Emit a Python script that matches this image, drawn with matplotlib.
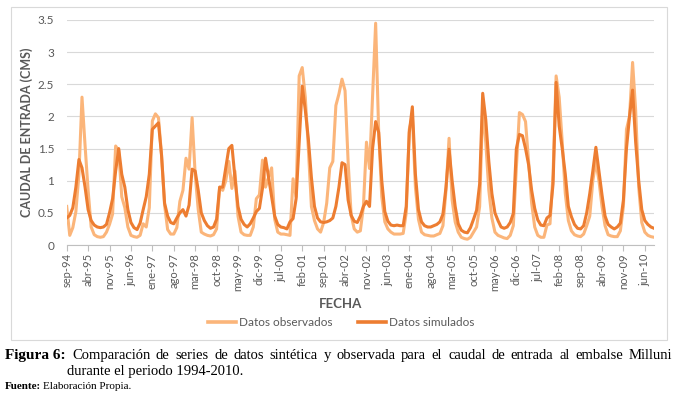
import matplotlib
matplotlib.use("Agg")
import matplotlib.pyplot as plt
from matplotlib.lines import Line2D
from matplotlib.patches import Rectangle
import numpy as np

# Monthly series sep-94 ... sep-10 (caudal de entrada, m3/s)
observados = [
    0.60, 0.15, 0.27, 0.52, 1.10, 2.30, 1.55, 0.85, 0.28, 0.16, 0.13, 0.12,
    0.13, 0.20, 0.32, 0.48, 1.54, 1.47, 0.75, 0.58, 0.28, 0.15, 0.13, 0.12,
    0.15, 0.33, 0.28, 0.58, 1.93, 2.04, 1.98, 1.40, 0.62, 0.24, 0.17, 0.17,
    0.27, 0.68, 0.85, 1.35, 1.18, 1.98, 1.10, 0.55, 0.20, 0.17, 0.15, 0.14,
    0.16, 0.25, 0.90, 0.85, 1.00, 1.30, 0.88, 1.15, 0.45, 0.20, 0.16, 0.15,
    0.15, 0.28, 0.72, 0.78, 1.32, 0.90, 1.05, 1.20, 0.40, 0.20, 0.17, 0.17,
    0.16, 0.15, 1.03, 0.75, 2.63, 2.76, 2.30, 1.50, 0.60, 0.38, 0.25, 0.20,
    0.35, 0.65, 1.20, 1.30, 2.17, 2.35, 2.58, 2.40, 1.30, 0.46, 0.25, 0.20,
    0.22, 0.60, 1.60, 1.19, 2.30, 3.45, 1.75, 0.75, 0.36, 0.25, 0.20, 0.17,
    0.17, 0.17, 0.18, 0.50, 1.80, 2.00, 0.90, 0.40, 0.20, 0.16, 0.15, 0.14,
    0.14, 0.16, 0.18, 0.30, 0.85, 1.66, 0.70, 0.36, 0.20, 0.12, 0.10, 0.09,
    0.12, 0.20, 0.28, 0.60, 2.15, 1.60, 0.85, 0.42, 0.20, 0.15, 0.13, 0.11,
    0.10, 0.15, 0.30, 1.20, 2.06, 2.03, 1.92, 1.30, 0.65, 0.28, 0.15, 0.12,
    0.12, 0.31, 0.33, 1.10, 2.63, 2.30, 1.60, 0.80, 0.38, 0.22, 0.16, 0.14,
    0.13, 0.17, 0.30, 0.45, 1.00, 1.30, 1.00, 0.60, 0.30, 0.16, 0.14, 0.13,
    0.13, 0.22, 0.60, 1.80, 2.00, 2.84, 2.10, 0.90, 0.35, 0.20, 0.15, 0.13,
    0.12,
]
simulados = [
    0.42, 0.46, 0.58, 0.90, 1.33, 1.20, 0.90, 0.55, 0.38, 0.31, 0.28, 0.27,
    0.28, 0.32, 0.50, 0.72, 1.15, 1.50, 1.10, 0.90, 0.55, 0.35, 0.27, 0.24,
    0.34, 0.55, 0.75, 1.10, 1.80, 1.85, 1.90, 1.40, 0.65, 0.45, 0.35, 0.33,
    0.42, 0.50, 0.55, 0.45, 0.62, 1.18, 1.15, 0.85, 0.50, 0.38, 0.30, 0.26,
    0.28, 0.40, 0.90, 0.90, 1.20, 1.50, 1.55, 1.05, 0.60, 0.40, 0.32, 0.28,
    0.33, 0.42, 0.52, 0.57, 0.88, 1.35, 1.05, 0.75, 0.45, 0.32, 0.28, 0.27,
    0.25, 0.36, 0.41, 0.72, 1.60, 2.47, 2.10, 1.65, 1.05, 0.60, 0.42, 0.36,
    0.35, 0.36, 0.38, 0.42, 0.60, 0.90, 1.28, 1.25, 0.70, 0.46, 0.37, 0.35,
    0.45, 0.60, 0.68, 0.60, 1.50, 1.92, 1.75, 1.00, 0.52, 0.37, 0.31, 0.30,
    0.31, 0.30, 0.30, 0.60, 1.75, 2.15, 1.10, 0.55, 0.36, 0.30, 0.28, 0.28,
    0.30, 0.32, 0.36, 0.48, 0.90, 1.49, 1.00, 0.60, 0.33, 0.23, 0.20, 0.19,
    0.27, 0.40, 0.54, 0.95, 2.36, 1.95, 1.30, 0.80, 0.50, 0.38, 0.28, 0.26,
    0.28, 0.35, 0.49, 1.50, 1.72, 1.70, 1.50, 1.25, 0.85, 0.57, 0.39, 0.31,
    0.30, 0.42, 0.46, 0.95, 2.53, 1.85, 1.50, 1.10, 0.60, 0.44, 0.32, 0.26,
    0.25, 0.30, 0.50, 0.80, 1.15, 1.52, 1.15, 0.78, 0.45, 0.32, 0.28, 0.25,
    0.28, 0.34, 0.70, 1.50, 2.00, 2.41, 1.60, 1.00, 0.55, 0.38, 0.32, 0.28,
    0.26,
]
xtick_labels = ['sep-94', 'abr-95', 'nov-95', 'jun-96', 'ene-97', 'ago-97', 'mar-98',
                'oct-98', 'may-99', 'dic-99', 'jul-00', 'feb-01', 'sep-01', 'abr-02',
                'nov-02', 'jun-03', 'ene-04', 'ago-04', 'mar-05', 'oct-05', 'may-06',
                'dic-06', 'jul-07', 'feb-08', 'sep-08', 'abr-09', 'nov-09', 'jun-10']
ytick_values = [0, 0.5, 1, 1.5, 2, 2.5, 3, 3.5]
ytick_labels = ['0', '0.5', '1', '1.5', '2', '2.5', '3', '3.5']
series_names = ['Datos observados', 'Datos simulados']

W, H = 676, 394
fig = plt.figure(figsize=(W / 100, H / 100), dpi=100)
fig.patch.set_facecolor('white')

SANS = ['Lato', 'DejaVu Sans']
SERIF = ['Liberation Serif', 'DejaVu Serif']
GREY = '#595959'
C_OBS = '#FBB57A'
C_SIM = '#ED7D31'

def fx(px):
    return px / W

def fy(py):
    return 1 - py / H

# chart frame
fig.patches.append(Rectangle((fx(11), fy(340)), fx(667) - fx(11), fy(7) - fy(340),
                             transform=fig.transFigure, facecolor='none',
                             edgecolor='#D9D9D9', lw=0.8, zorder=-10))

ax = fig.add_axes([fx(66.7), fy(245), fx(654) - fx(66.7), fy(20) - fy(245)])
x = np.arange(len(observados))
ax.plot(x, observados, color=C_OBS, lw=2.2, solid_joinstyle='round', zorder=3)
ax.plot(x, simulados, color=C_SIM, lw=2.2, solid_joinstyle='round', zorder=4)

ax.set_xlim(0, len(observados) - 1)
ax.set_ylim(0, 3.5)
ax.set_yticks(ytick_values)
ax.set_yticklabels(ytick_labels, family=SANS, fontsize=8.5, color=GREY)
ax.set_xticks(np.arange(0, len(observados), 7)[:len(xtick_labels)])
ax.set_xticklabels(xtick_labels, rotation=90, family=SANS, fontsize=8, color=GREY)
ax.tick_params(axis='y', length=0, pad=9)
ax.tick_params(axis='x', length=4, width=0.8, color='#BFBFBF', pad=2)
for s in ['left', 'top', 'right']:
    ax.spines[s].set_visible(False)
ax.spines['bottom'].set_color('#BFBFBF')
ax.spines['bottom'].set_linewidth(0.8)
ax.grid(axis='y', color='#D9D9D9', lw=0.8)
ax.set_axisbelow(True)
ax.patch.set_alpha(0)

fig.text(fx(27), fy(132), 'CAUDAL DE ENTRADA (CMS)', rotation=90, ha='center', va='center',
         family=SANS, fontsize=9, fontweight='bold', color=GREY)
fig.text(fx(341), fy(304), 'FECHA', ha='center', va='center',
         family=SANS, fontsize=9.5, fontweight='bold', color=GREY)

handles = [Line2D([], [], color=C_OBS, lw=2.6), Line2D([], [], color=C_SIM, lw=2.6)]
leg = fig.legend(handles, series_names, loc='center', bbox_to_anchor=(fx(341), fy(323)),
                 ncol=2, frameon=False, handlelength=2.4, handletextpad=0.2,
                 columnspacing=2.2, prop={'family': SANS, 'size': 8.5})
for t in leg.get_texts():
    t.set_color(GREY)

# caption
renderer = fig.canvas.get_renderer()

def justify(words, x0, x1, ybase, **kw):
    texts = [fig.text(0, fy(ybase), w, va='baseline', **kw) for w in words]
    widths = [t.get_window_extent(renderer).width for t in texts]
    gap = (x1 - x0 - sum(widths)) / (len(words) - 1)
    xp = x0
    for t, w in zip(texts, widths):
        t.set_x(fx(xp))
        xp += w + gap

cap_kw = dict(family=SERIF, fontsize=10.5, color='black')
fig.text(fx(5), fy(359), 'Figura 6:', va='baseline', fontweight='bold',
         family=SERIF, fontsize=11, color='black')
justify('Comparación de series de datos sintética y observada para el caudal de entrada al embalse Milluni'.split(),
        72, 672, 359, **cap_kw)
fig.text(fx(67), fy(375), 'durante el periodo 1994-2010.', va='baseline', **cap_kw)
t1 = fig.text(fx(5), fy(389), 'Fuente:', va='baseline', fontweight='bold',
              family=SERIF, fontsize=8, color='black')
w1 = t1.get_window_extent(renderer).width
fig.text(fx(5 + w1 + 2), fy(389), 'Elaboración Propia.', va='baseline',
         family=SERIF, fontsize=8, color='black')

fig.savefig('out.png', dpi=100)
